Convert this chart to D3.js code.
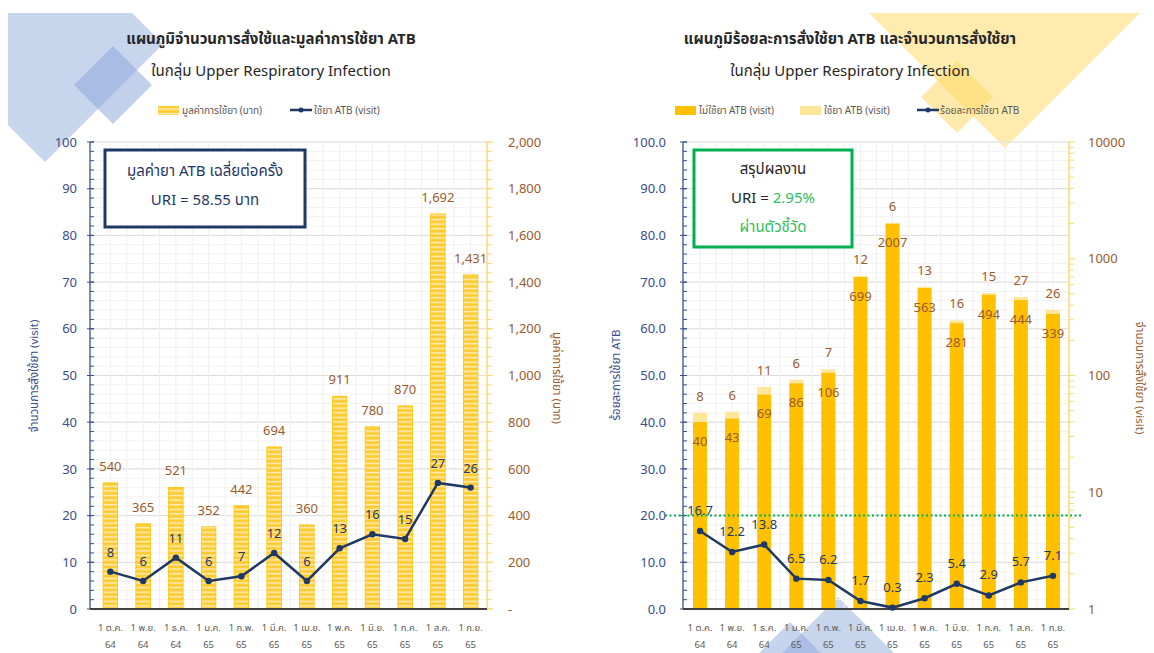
<!DOCTYPE html>
<html>
<head>
<meta charset="utf-8">
<script src="https://cdnjs.cloudflare.com/ajax/libs/d3/7.8.5/d3.min.js"></script>
<style>
  body { margin: 0; background: #fff; }
  svg text { font-family: Tahoma, "Leelawadee UI", "Noto Sans Thai", "Noto Sans", sans-serif; }
</style>
</head>
<body>
<div id="chart"></div>
<script>
// ---- data ----
var months = ["1 ต.ค.", "1 พ.ย.", "1 ธ.ค.", "1 ม.ค.", "1 ก.พ.", "1 มี.ค.", "1 เม.ย.", "1 พ.ค.", "1 มิ.ย.", "1 ก.ค.", "1 ส.ค.", "1 ก.ย."];
var years = ["64", "64", "64", "65", "65", "65", "65", "65", "65", "65", "65", "65"];
var costBaht = [540, 365, 521, 352, 442, 694, 360, 911, 780, 870, 1692, 1431];
var atbVisit = [8, 6, 11, 6, 7, 12, 6, 13, 16, 15, 27, 26];
var nonAtbVisit = [40, 43, 69, 86, 106, 699, 2007, 563, 281, 494, 444, 339];
var atbPercent = [16.7, 12.2, 13.8, 6.5, 6.2, 1.7, 0.3, 2.3, 5.4, 2.9, 5.7, 7.1];
var visitTicks = [0, 10, 20, 30, 40, 50, 60, 70, 80, 90, 100];
var costTicks = [0, 200, 400, 600, 800, 1000, 1200, 1400, 1600, 1800, 2000];
var percentTicks = [0, 10, 20, 30, 40, 50, 60, 70, 80, 90, 100];
var logTicks = [1, 10, 100, 1000, 10000];
var targetPercent = 20;

;(function(cxt){
  var W = 1154, H = 653;
  var navy = "#1F3864", axisBlue = "#3A4E8C", brown = "#9A5B2E", grey = "#595959";
  var gold = "#FFC000", paleGold = "#FFE699", green = "#00B050";
  var top = 142, bottom = 609;

  var svg = d3.select("#chart").append("svg").attr("width", W).attr("height", H);
  var defs = svg.append("defs");
  var pat = defs.append("pattern").attr("id", "stripe").attr("patternUnits", "userSpaceOnUse")
    .attr("width", 8).attr("height", 4.6);
  pat.append("rect").attr("width", 8).attr("height", 4.6).attr("fill", "#FFCB2E");
  pat.append("rect").attr("y", 2.6).attr("width", 8).attr("height", 1.5).attr("fill", "#FFEFC0");

  // background shapes
  var deco = svg.append("g");
  deco.append("polygon").attr("points", "8,13 132,13 163,44 45,162 8,125").attr("fill", "#B4C7E7").attr("opacity", 0.75);
  deco.append("polygon").attr("points", "113,46 152,85 113,124 74,85").attr("fill", "#8FAADC").attr("opacity", 0.55);
  deco.append("polygon").attr("points", "869,13 1140,13 1005,148").attr("fill", "#FFE699").attr("opacity", 0.8);
  deco.append("polygon").attr("points", "957,61 993,97 957,133 921,97").attr("fill", "#FFD966").attr("opacity", 0.55);
  deco.append("polygon").attr("points", "838,597 894,653 782,653").attr("fill", "#B4C7E7").attr("opacity", 0.75);
  deco.append("polygon").attr("points", "790,622 821,653 759,653").attr("fill", "#8FAADC").attr("opacity", 0.5);

  function grid(x, y0, x0, x1, ticks) {
    var g = svg.append("g");
    var minor = d3.range(ticks[0], ticks[ticks.length - 1] + 0.01, (ticks[1] - ticks[0]) / 5);
    g.selectAll(".mn").data(minor).join("line")
      .attr("x1", x0).attr("x2", x1).attr("y1", function(d){ return y0(d); }).attr("y2", function(d){ return y0(d); })
      .attr("stroke", "#F2F2F2");
    g.selectAll(".mj").data(ticks).join("line")
      .attr("x1", x0).attr("x2", x1).attr("y1", function(d){ return y0(d); }).attr("y2", function(d){ return y0(d); })
      .attr("stroke", "#DDDDDD");
    var step = x.step(), vx = [];
    x.domain().forEach(function(d){ vx.push(x(d) + step / 2); vx.push(x(d) + step); });
    g.selectAll(".v").data(vx).join("line")
      .attr("x1", function(d){ return d; }).attr("x2", function(d){ return d; })
      .attr("y1", top).attr("y2", bottom).attr("stroke", "#EFEFEF");
  }

  function vAxis(xPos, scale, major, minor, side, color, labelColor, fmt, pad) {
    var g = svg.append("g").attr("transform", "translate(" + xPos + ",0)");
    var ax = (side == "left" ? d3.axisLeft(scale) : d3.axisRight(scale))
      .tickValues(major).tickSize(0).tickPadding(pad).tickFormat(fmt);
    g.call(ax);
    g.select(".domain").remove();
    g.selectAll("text").attr("fill", labelColor).style("font-size", "13px");
    g.append("line").attr("y1", top).attr("y2", bottom).attr("stroke", color).attr("stroke-width", 1.3);
    var a = side == "left" ? [-3, 4] : [0, 6], b = side == "left" ? [0, 4] : [0, 5];
    g.selectAll(".mn").data(minor).join("line")
      .attr("x1", b[0]).attr("x2", b[1]).attr("y1", function(d){ return scale(d); }).attr("y2", function(d){ return scale(d); })
      .attr("stroke", color);
    g.selectAll(".mj").data(major).join("line")
      .attr("x1", a[0]).attr("x2", a[1]).attr("y1", function(d){ return scale(d); }).attr("y2", function(d){ return scale(d); })
      .attr("stroke", color);
    return g;
  }

  function xLabels(x) {
    var g = svg.append("g");
    months.forEach(function(m, i){
      var cx = x(i) + x.bandwidth() / 2;
      g.append("text").attr("x", cx).attr("y", 631).attr("text-anchor", "middle")
        .attr("fill", grey).style("font-size", "9.5px").text(m);
      g.append("text").attr("x", cx).attr("y", 648).attr("text-anchor", "middle")
        .attr("fill", grey).style("font-size", "9.5px").text(years[i]);
    });
  }

  function axisTitle(x, y, rot, color, txt) {
    svg.append("text").attr("transform", "translate(" + x + "," + y + ") rotate(" + rot + ")")
      .attr("text-anchor", "middle").attr("fill", color).style("font-size", "11.5px").text(txt);
  }

  function title(cx, l1, l2) {
    svg.append("text").attr("x", cx).attr("y", 44).attr("text-anchor", "middle").attr("fill", "#262626")
      .style("font-size", "15px").style("font-weight", "bold").text(l1);
    svg.append("text").attr("x", cx).attr("y", 76).attr("text-anchor", "middle").attr("fill", "#262626")
      .style("font-size", "15px").text(l2);
  }

  function legendText(x, txt) {
    svg.append("text").attr("x", x).attr("y", 114).attr("fill", grey).style("font-size", "10px").text(txt);
  }

  function lineKey(x) {
    svg.append("line").attr("x1", x).attr("x2", x + 22).attr("y1", 110).attr("y2", 110).attr("stroke", navy).attr("stroke-width", 2.5);
    svg.append("circle").attr("cx", x + 11).attr("cy", 110).attr("r", 2.5).attr("fill", navy);
  }

  var idx = d3.range(months.length);

  // ================= left chart =================
  var x1 = d3.scaleBand().domain(idx).range([94, 487]);
  var yVisit = d3.scaleLinear().domain([0, 100]).range([bottom, top]);
  var yCost = d3.scaleLinear().domain([0, 2000]).range([bottom, top]);
  var bw1 = 14.5;

  grid(x1, yVisit, 90, 487, visitTicks);

  title(271, "แผนภูมิจำนวนการสั่งใช้และมูลค่าการใช้ยา ATB", "ในกลุ่ม Upper Respiratory Infection");
  svg.append("rect").attr("x", 158).attr("y", 106).attr("width", 21).attr("height", 9).attr("fill", "url(#stripe)");
  legendText(182, "มูลค่าการใช้ยา (บาท)");
  lineKey(290);
  legendText(314, "ใช้ยา ATB (visit)");

  svg.append("g").selectAll("rect").data(costBaht).join("rect")
    .attr("x", function(d, i){ return x1(i) + x1.bandwidth() / 2 - bw1 / 2; })
    .attr("y", function(d){ return yCost(d); })
    .attr("width", bw1).attr("height", function(d){ return bottom - yCost(d); })
    .attr("fill", "url(#stripe)").attr("stroke", "#FFC000").attr("stroke-width", 0.8);

  svg.append("g").selectAll("text").data(costBaht).join("text")
    .attr("x", function(d, i){ return x1(i) + x1.bandwidth() / 2; })
    .attr("y", function(d){ return yCost(d) - 12; })
    .attr("text-anchor", "middle").attr("fill", brown).style("font-size", "13px")
    .text(d3.format(","));

  vAxis(90, yVisit, visitTicks, d3.range(0, 101, 2), "left", axisBlue, axisBlue, d3.format("d"), 13);
  vAxis(487, yCost, costTicks, d3.range(0, 2001, 40), "right", "#FFD966", brown,
    function(v){ return v == 0 ? "-" : d3.format(",")(v); }, 21);
  svg.append("line").attr("x1", 90).attr("x2", 487).attr("y1", bottom).attr("y2", bottom).attr("stroke", "#404040").attr("stroke-width", 2);

  var line1 = d3.line().x(function(d, i){ return x1(i) + x1.bandwidth() / 2; }).y(function(d){ return yVisit(d); });
  svg.append("path").datum(atbVisit).attr("d", line1).attr("fill", "none").attr("stroke", navy).attr("stroke-width", 2.5);
  svg.append("g").selectAll("circle").data(atbVisit).join("circle")
    .attr("cx", function(d, i){ return x1(i) + x1.bandwidth() / 2; }).attr("cy", function(d){ return yVisit(d); })
    .attr("r", 3.2).attr("fill", navy);
  svg.append("g").selectAll("text").data(atbVisit).join("text")
    .attr("x", function(d, i){ return x1(i) + x1.bandwidth() / 2; })
    .attr("y", function(d){ return yVisit(d) - 15; })
    .attr("text-anchor", "middle").attr("fill", navy).style("font-size", "13px").text(function(d){ return d; });

  xLabels(x1);
  axisTitle(38, 376, -90, axisBlue, "จำนวนการสั่งใช้ยา (visit)");
  axisTitle(553, 378, 90, brown, "มูลค่าการใช้ยา (บาท)");

  svg.append("rect").attr("x", 105).attr("y", 150).attr("width", 200).attr("height", 77)
    .attr("fill", "#fff").attr("stroke", navy).attr("stroke-width", 3);
  svg.append("text").attr("x", 205).attr("y", 176).attr("text-anchor", "middle").attr("fill", navy)
    .style("font-size", "15px").text("มูลค่ายา ATB เฉลี่ยต่อครั้ง");
  svg.append("text").attr("x", 205).attr("y", 205).attr("text-anchor", "middle").attr("fill", navy)
    .style("font-size", "15px").text("URI = 58.55 บาท");

  // ================= right chart =================
  var x2 = d3.scaleBand().domain(idx).range([684, 1069]);
  var yPct = d3.scaleLinear().domain([0, 100]).range([bottom, top]);
  var yLog = d3.scaleLog().domain([1, 10000]).range([bottom, top]);
  var bw2 = 14;

  grid(x2, yPct, 683, 1069, percentTicks);

  title(850, "แผนภูมิร้อยละการสั่งใช้ยา ATB และจำนวนการสั่งใช้ยา", "ในกลุ่ม Upper Respiratory Infection");
  svg.append("rect").attr("x", 675).attr("y", 106).attr("width", 21).attr("height", 9).attr("fill", gold);
  legendText(699, "ไม่ใช้ยา ATB (visit)");
  svg.append("rect").attr("x", 800).attr("y", 106).attr("width", 21).attr("height", 9).attr("fill", paleGold);
  legendText(824, "ใช้ยา ATB (visit)");
  lineKey(917);
  legendText(940, "ร้อยละการใช้ยา ATB");

  var cx2 = function(i){ return x2(i) + x2.bandwidth() / 2; };
  svg.append("g").selectAll("rect").data(nonAtbVisit).join("rect")
    .attr("x", function(d, i){ return cx2(i) - bw2 / 2; })
    .attr("y", function(d){ return yLog(d); })
    .attr("width", bw2).attr("height", function(d){ return bottom - yLog(d); })
    .attr("fill", gold);
  svg.append("g").selectAll("rect").data(nonAtbVisit).join("rect")
    .attr("x", function(d, i){ return cx2(i) - bw2 / 2; })
    .attr("y", function(d, i){ return yLog(d + atbVisit[i]); })
    .attr("width", bw2).attr("height", function(d, i){ return yLog(d) - yLog(d + atbVisit[i]); })
    .attr("fill", paleGold);

  svg.append("g").selectAll("text").data(atbVisit).join("text")
    .attr("x", function(d, i){ return cx2(i); })
    .attr("y", function(d, i){ return yLog(nonAtbVisit[i] + d) - 12; })
    .attr("text-anchor", "middle").attr("fill", brown).style("font-size", "13px").text(function(d){ return d; });
  svg.append("g").selectAll("text").data(nonAtbVisit).join("text")
    .attr("x", function(d, i){ return cx2(i); })
    .attr("y", function(d){ return yLog(d) + 24; })
    .attr("text-anchor", "middle").attr("fill", brown).style("font-size", "13px").text(function(d){ return d; });

  vAxis(683, yPct, percentTicks, d3.range(0, 101, 2), "left", axisBlue, axisBlue, d3.format(".1f"), 17);
  var logMinor = [];
  [1, 10, 100, 1000].forEach(function(p){ for (var m = 2; m < 10; m++) logMinor.push(m * p); });
  vAxis(1069, yLog, logTicks, logMinor, "right", "#FFD966", brown, d3.format("d"), 19);
  svg.append("line").attr("x1", 683).attr("x2", 1069).attr("y1", bottom).attr("y2", bottom).attr("stroke", "#404040").attr("stroke-width", 2);

  svg.append("line").attr("x1", 665).attr("x2", 1083).attr("y1", yPct(targetPercent)).attr("y2", yPct(targetPercent))
    .attr("stroke", "#00B050").attr("stroke-width", 2).attr("stroke-dasharray", "2,2.5");

  var line2 = d3.line().x(function(d, i){ return cx2(i); }).y(function(d){ return yPct(d); });
  svg.append("path").datum(atbPercent).attr("d", line2).attr("fill", "none").attr("stroke", navy).attr("stroke-width", 2.5);
  svg.append("g").selectAll("circle").data(atbPercent).join("circle")
    .attr("cx", function(d, i){ return cx2(i); }).attr("cy", function(d){ return yPct(d); })
    .attr("r", 3.2).attr("fill", navy);
  svg.append("g").selectAll("text").data(atbPercent).join("text")
    .attr("x", function(d, i){ return cx2(i); })
    .attr("y", function(d){ return yPct(d) - 16; })
    .attr("text-anchor", "middle").attr("fill", navy).style("font-size", "13px").text(d3.format(".1f"));

  xLabels(x2);
  axisTitle(620, 375, -90, axisBlue, "ร้อยละการใช้ยา ATB");
  axisTitle(1136, 378, 90, brown, "จำนวนการสั่งใช้ยา (visit)");

  svg.append("rect").attr("x", 694).attr("y", 150).attr("width", 158).attr("height", 97)
    .attr("fill", "#fff").attr("stroke", green).attr("stroke-width", 3);
  svg.append("text").attr("x", 773).attr("y", 174).attr("text-anchor", "middle").attr("fill", "#262626")
    .style("font-size", "15px").text("สรุปผลงาน");
  var t = svg.append("text").attr("x", 773).attr("y", 203).attr("text-anchor", "middle").style("font-size", "15px");
  t.append("tspan").attr("fill", "#262626").text("URI = ");
  t.append("tspan").attr("fill", "#2EBE5E").text("2.95%");
  svg.append("text").attr("x", 773).attr("y", 232).attr("text-anchor", "middle").attr("fill", "#2EBE5E")
    .style("font-size", "15px").text("ผ่านตัวชี้วัด");
})(window);
</script>
</body>
</html>
